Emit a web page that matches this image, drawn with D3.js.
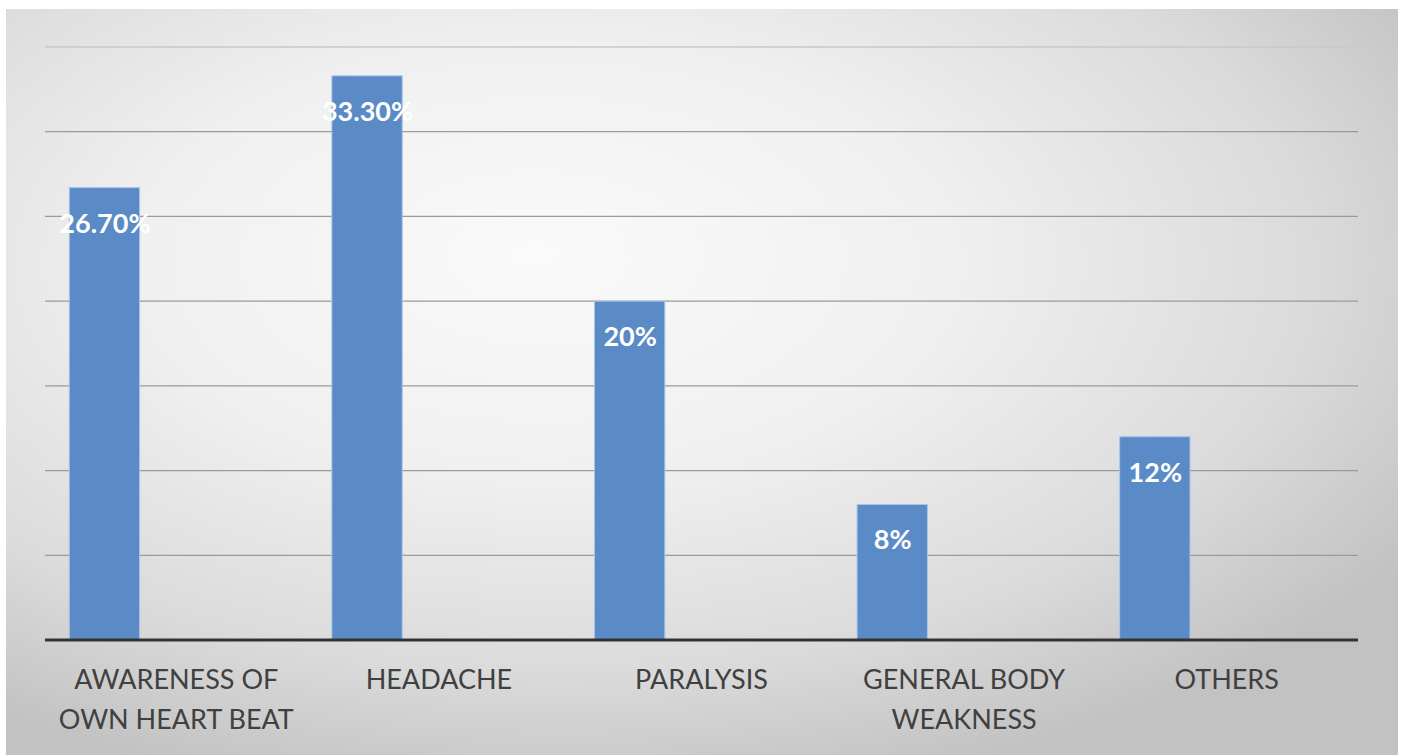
<!DOCTYPE html>
<html>
<head>
<meta charset="utf-8">
<script src="https://cdn.jsdelivr.net/npm/d3@7"></script>
<style>
  html, body { margin: 0; padding: 0; background: #ffffff; }
  svg { display: block; }
</style>
</head>
<body>
<svg id="chart" width="1403" height="755"></svg>
<script>
// Symptom categories (each entry is the wrapped lines of the axis label)
const categories = [
  ["AWARENESS OF", "OWN HEART BEAT"],
  ["HEADACHE"],
  ["PARALYSIS"],
  ["GENERAL BODY", "WEAKNESS"],
  ["OTHERS"]
];
// Share of respondents per symptom, in percent
const values = [26.7, 33.3, 20, 8, 12];
// Data labels printed on the bars
const valueLabels = ["26.70%", "33.30%", "20%", "8%", "12%"];
// Gridline values along the hidden value axis
const gridTicks = [5, 10, 15, 20, 25, 30, 35];

const svg = d3.select("#chart");

// Chart area background with a soft radial shading
const defs = svg.append("defs");
const grad = defs.append("radialGradient")
  .attr("id", "bg")
  .attr("cx", "40%").attr("cy", "35%")
  .attr("r", "72%")
  .attr("fx", "38%").attr("fy", "33%");
grad.append("stop").attr("offset", "0%").attr("stop-color", "#fafafa");
grad.append("stop").attr("offset", "40%").attr("stop-color", "#f0f0f0");
grad.append("stop").attr("offset", "75%").attr("stop-color", "#dbdbdb");
grad.append("stop").attr("offset", "100%").attr("stop-color", "#c2c2c2");

svg.append("rect")
  .attr("x", 6).attr("y", 9)
  .attr("width", 1392).attr("height", 746)
  .attr("fill", "url(#bg)");

const plot = { left: 45, right: 1358, top: 47, bottom: 640 };

const x = d3.scaleBand()
  .domain(d3.range(categories.length))
  .range([plot.left, plot.right])
  .paddingInner(0).paddingOuter(0);

// Bars sit toward the left of each category slot
const slot = d3.scaleBand()
  .domain([0, 1, 2])
  .range([0, x.bandwidth()])
  .paddingInner(0)
  .paddingOuter(0.34);

const y = d3.scaleLinear()
  .domain([0, 35])
  .range([plot.bottom, plot.top]);

// Horizontal gridlines
svg.append("g")
  .selectAll("line")
  .data(gridTicks)
  .join("line")
  .attr("x1", plot.left).attr("x2", plot.right)
  .attr("y1", d => y(d)).attr("y2", d => y(d))
  .attr("stroke", d => d === 35 ? "#c8c8c8" : "#9a9a9a")
  .attr("stroke-width", 1.3);

// Bars
svg.append("g")
  .selectAll("rect")
  .data(values)
  .join("rect")
  .attr("x", (d, i) => x(i) + slot(0))
  .attr("width", slot.bandwidth() - 1)
  .attr("y", d => y(d))
  .attr("height", d => y(0) - y(d))
  .attr("fill", "#5b8bc6")
  .attr("stroke", "#a9c6ea")
  .attr("stroke-width", 1);

// Category axis line
svg.append("line")
  .attr("x1", plot.left).attr("x2", plot.right)
  .attr("y1", y(0)).attr("y2", y(0))
  .attr("stroke", "#333333")
  .attr("stroke-width", 3);

// Value labels inside the top of each bar
svg.append("g")
  .selectAll("text")
  .data(values)
  .join("text")
  .attr("x", (d, i) => x(i) + slot(0) + slot.bandwidth() / 2)
  .attr("y", d => y(d) + 45)
  .attr("text-anchor", "middle")
  .attr("font-family", "Lato, 'Open Sans', sans-serif")
  .attr("font-weight", "bold")
  .attr("font-size", 27)
  .attr("fill", "#ffffff")
  .text((d, i) => valueLabels[i]);

// Category labels under the axis
const catG = svg.append("g")
  .selectAll("text")
  .data(categories)
  .join("text")
  .attr("x", (d, i) => x(i) + x.bandwidth() / 2)
  .attr("y", 689)
  .attr("text-anchor", "middle")
  .attr("font-family", "Lato, 'Open Sans', sans-serif")
  .attr("font-size", 27)
  .attr("fill", "#404040");
catG.selectAll("tspan")
  .data(d => d)
  .join("tspan")
  .attr("x", function () { return d3.select(this.parentNode).attr("x"); })
  .attr("dy", (d, j) => j === 0 ? 0 : 40)
  .text(d => d);
</script>
</body>
</html>
